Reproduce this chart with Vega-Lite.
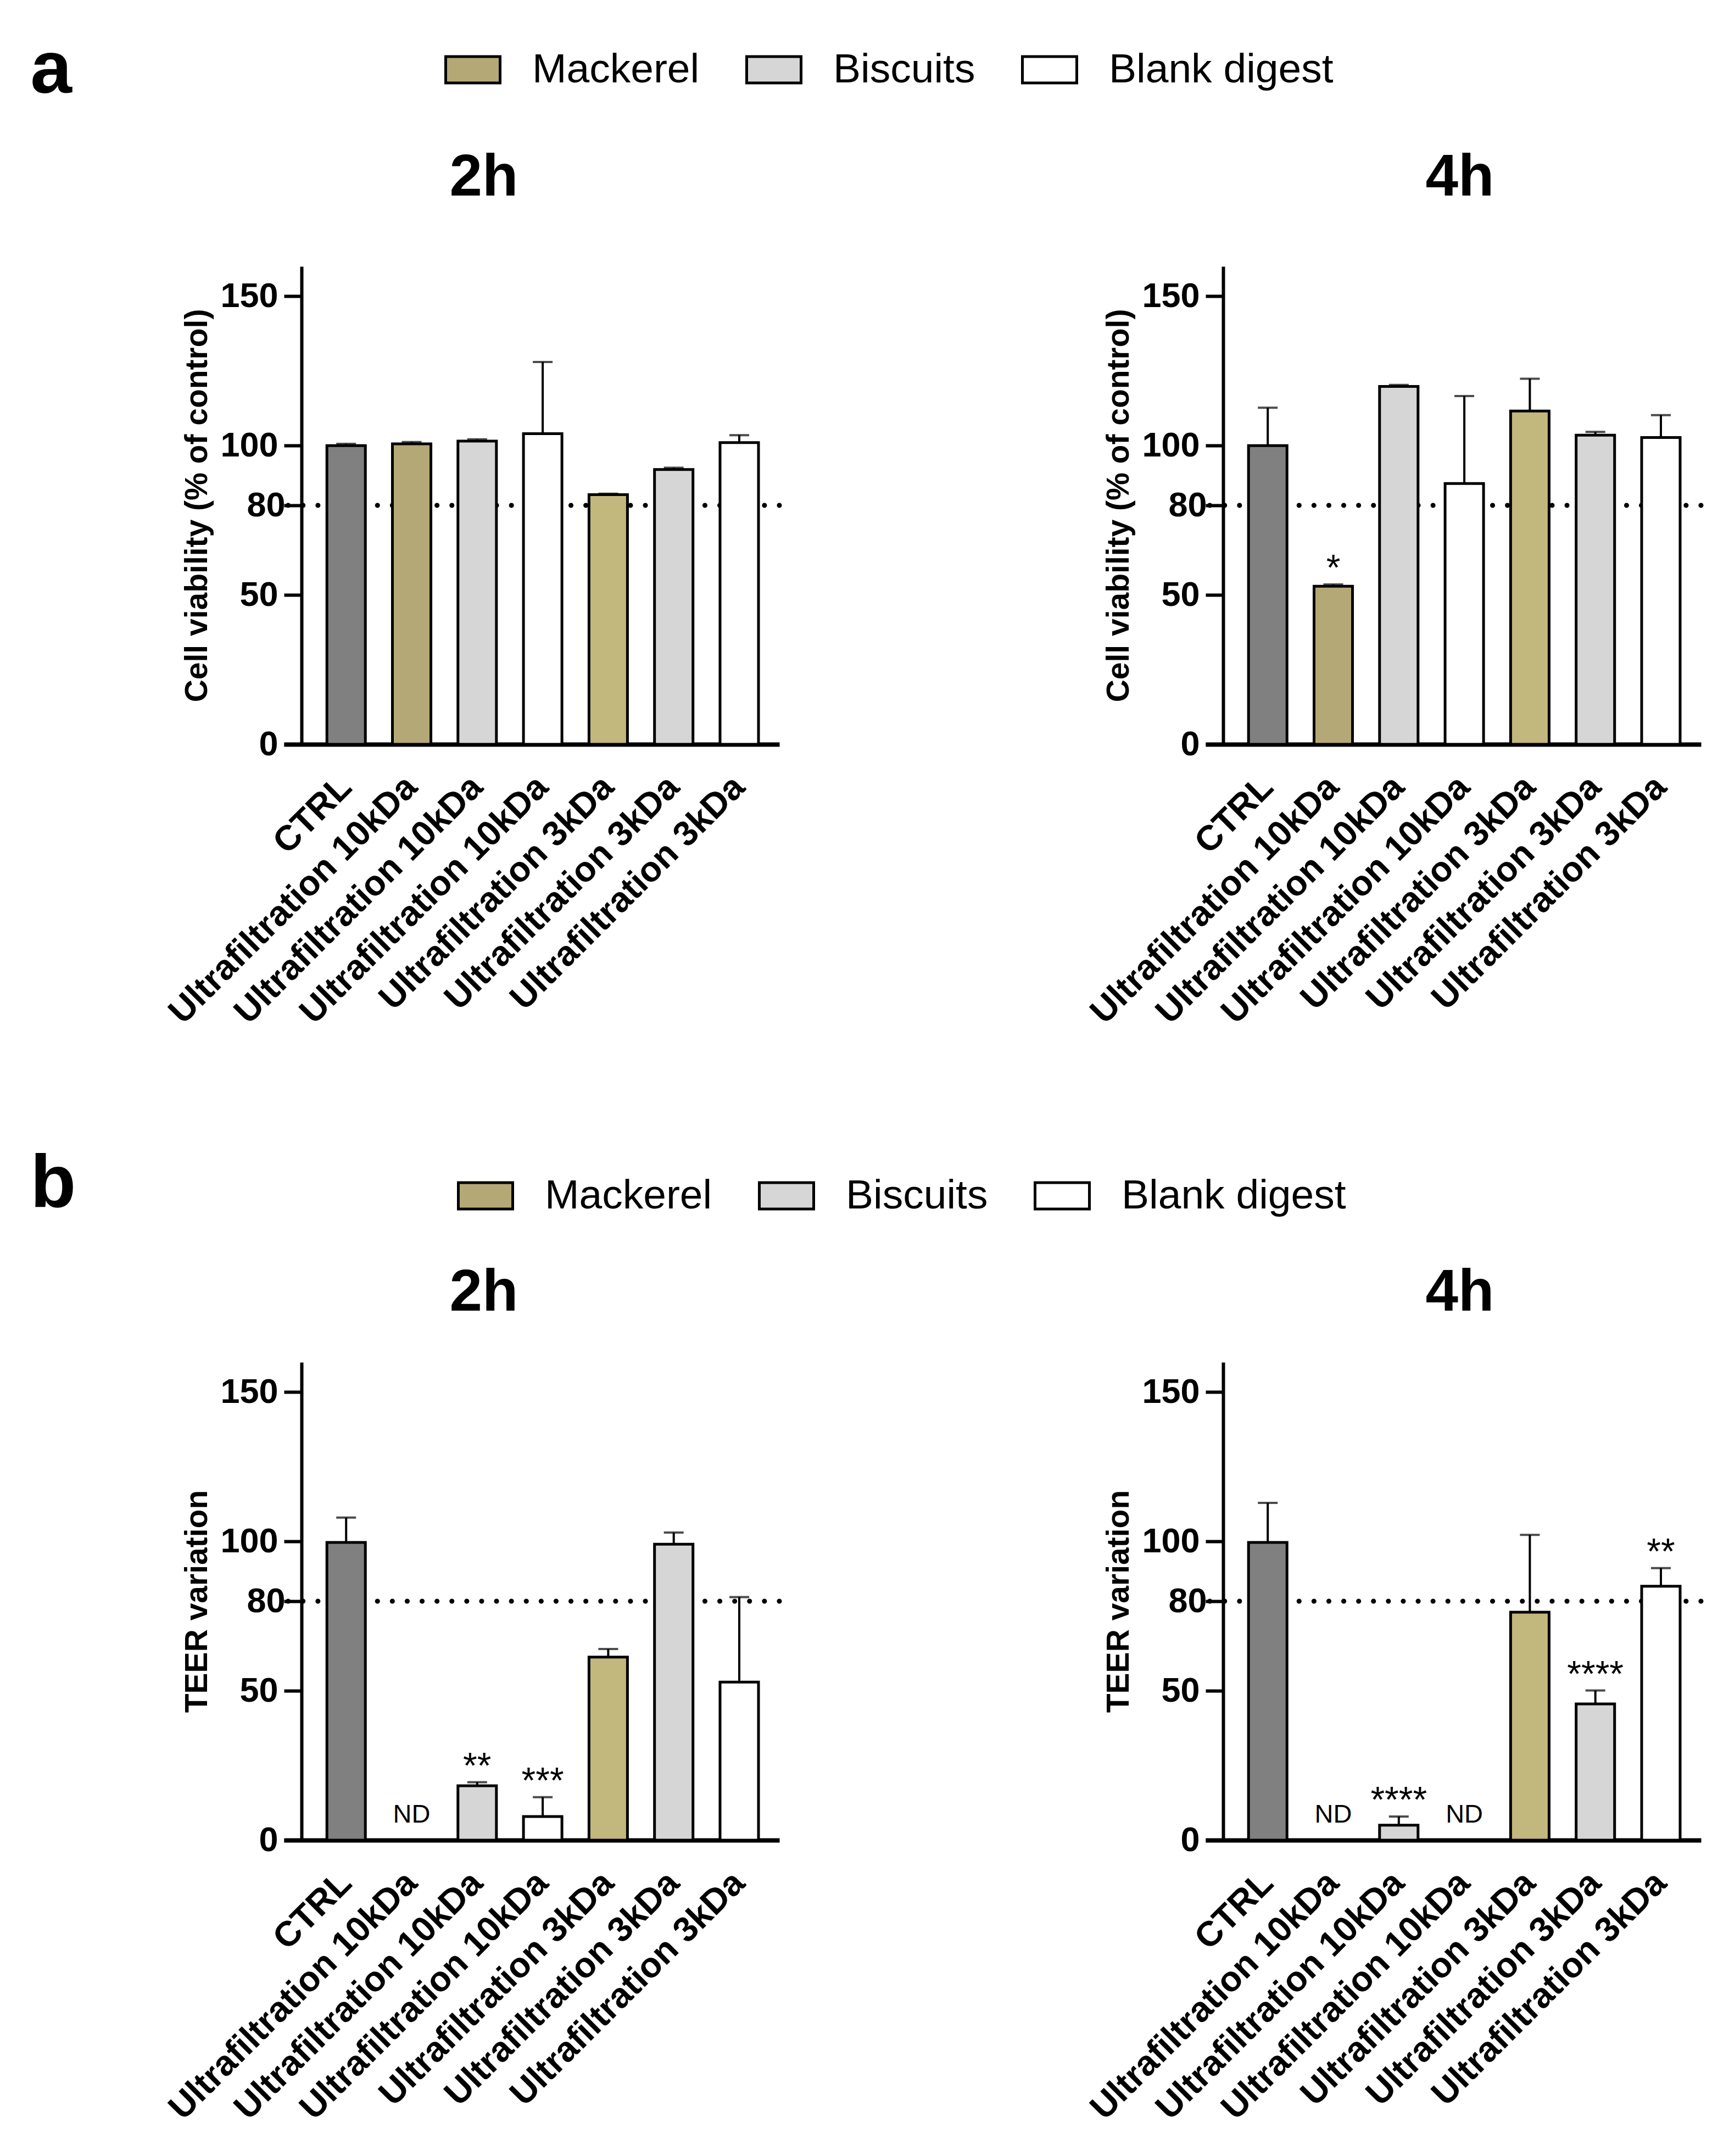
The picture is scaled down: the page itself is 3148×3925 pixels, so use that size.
{
  "$schema": "https://vega.github.io/schema/vega-lite/v6.json",
  "background": "white",
  "padding": {"left": 55, "top": 60, "right": 40, "bottom": 40},
  "datasets": {
    "viab2h": [
      {"bar": "CTRL", "mean": 100, "upper": 100.6, "note": ""},
      {"bar": "Mackerel 10kDa", "mean": 100.6, "upper": 101.2, "note": ""},
      {"bar": "Biscuits 10kDa", "mean": 101.5, "upper": 102.1, "note": ""},
      {"bar": "Blank digest 10kDa", "mean": 104.0, "upper": 128.0, "note": ""},
      {"bar": "Mackerel 3kDa", "mean": 83.6, "upper": 83.9, "note": ""},
      {"bar": "Biscuits 3kDa", "mean": 92.0, "upper": 92.6, "note": ""},
      {"bar": "Blank digest 3kDa", "mean": 101.0, "upper": 103.5, "note": ""}
    ],
    "viab4h": [
      {"bar": "CTRL", "mean": 100, "upper": 112.7, "note": ""},
      {"bar": "Mackerel 10kDa", "mean": 52.9, "upper": 53.5, "note": "*"},
      {"bar": "Biscuits 10kDa", "mean": 119.8, "upper": 120.3, "note": ""},
      {"bar": "Blank digest 10kDa", "mean": 87.3, "upper": 116.6, "note": ""},
      {"bar": "Mackerel 3kDa", "mean": 111.6, "upper": 122.4, "note": ""},
      {"bar": "Biscuits 3kDa", "mean": 103.5, "upper": 104.6, "note": ""},
      {"bar": "Blank digest 3kDa", "mean": 102.7, "upper": 110.2, "note": ""}
    ],
    "teer2h": [
      {"bar": "CTRL", "mean": 99.7, "upper": 108.0, "note": ""},
      {"bar": "Mackerel 10kDa", "mean": null, "upper": null, "note": "ND"},
      {"bar": "Biscuits 10kDa", "mean": 18.2, "upper": 19.4, "note": "**"},
      {"bar": "Blank digest 10kDa", "mean": 7.9, "upper": 14.4, "note": "***"},
      {"bar": "Mackerel 3kDa", "mean": 61.3, "upper": 64.0, "note": ""},
      {"bar": "Biscuits 3kDa", "mean": 99.1, "upper": 103.0, "note": ""},
      {"bar": "Blank digest 3kDa", "mean": 52.9, "upper": 81.4, "note": ""}
    ],
    "teer4h": [
      {"bar": "CTRL", "mean": 99.7, "upper": 112.9, "note": ""},
      {"bar": "Mackerel 10kDa", "mean": null, "upper": null, "note": "ND"},
      {"bar": "Biscuits 10kDa", "mean": 5.0, "upper": 7.9, "note": "****"},
      {"bar": "Blank digest 10kDa", "mean": null, "upper": null, "note": "ND"},
      {"bar": "Mackerel 3kDa", "mean": 76.3, "upper": 102.2, "note": ""},
      {"bar": "Biscuits 3kDa", "mean": 45.6, "upper": 50.1, "note": "****"},
      {"bar": "Blank digest 3kDa", "mean": 85.0, "upper": 91.1, "note": "**"}
    ],
    "threshold": [{"ref": 80}]
  },
  "config": {
    "font": "Liberation Sans",
    "view": {"stroke": null},
    "axis": {
      "grid": false,
      "domainColor": "black",
      "tickColor": "black",
      "labelColor": "black",
      "titleColor": "black",
      "labelFont": "Liberation Sans",
      "titleFont": "Liberation Sans",
      "labelFontWeight": "bold",
      "titleFontWeight": "bold"
    },
    "title": {"font": "Liberation Sans", "fontWeight": "bold", "color": "black"},
    "text": {"font": "Liberation Sans", "color": "black"}
  },
  "resolve": {"scale": {"color": "independent"}, "legend": {"color": "independent"}},
  "spacing": 212,
  "vconcat": [
    {
      "title": {"text": "a", "anchor": "start", "fontSize": 136, "baseline": "alphabetic", "dx": -241, "dy": 230, "offset": 0},
      "spacing": 550,
      "hconcat": [
        {
          "data": {"name": "viab2h"},
          "width": 902,
          "height": 870,
          "title": {"text": "2h", "fontSize": 107, "frame": "group", "anchor": "middle", "baseline": "alphabetic", "offset": 22, "dx": -87},
          "layer": [
            {"data": {"name": "threshold"}, "mark": {"type": "rule", "strokeDash": [0.1, 27], "strokeCap": "round", "strokeWidth": 9, "color": "black"}, "encoding": {"y": {"field": "ref", "type": "quantitative"}}},
            {
              "mark": {"type": "bar", "stroke": "black", "strokeWidth": 5},
              "encoding": {
                "x": {"field": "bar", "type": "nominal", "sort": null,
                  "scale": {"domain": ["CTRL", "Mackerel 10kDa", "Biscuits 10kDa", "Blank digest 10kDa", "Mackerel 3kDa", "Biscuits 3kDa", "Blank digest 3kDa"], "paddingInner": 0.413, "paddingOuter": 0.487, "align": 0.673},
                  "axis": {"title": null, "ticks": false, "tickSize": 0, "domainWidth": 8, "labelAngle": -45, "labelAlign": "right", "labelBaseline": "middle", "labelFontSize": 64, "labelPadding": 68, "labelLimit": 0,
                    "labelExpr": "datum.label == 'CTRL' ? 'CTRL' : 'Ultrafiltration ' + slice(datum.label, lastindexof(datum.label, ' ') + 1)"}},
                "y": {"field": "mean", "type": "quantitative",
                  "scale": {"domain": [0, 160], "nice": false},
                  "axis": {"title": "Cell viability (% of control)", "values": [0, 50, 80, 100, 150], "offset": -32, "tickSize": 32, "tickWidth": 6, "domainWidth": 6, "labelFontSize": 63,
                    "labelPadding": {"condition": {"test": "datum.value == 80", "value": -2}, "value": 11}, "titleFontSize": 57, "titlePadding": 12}},
                "color": {"field": "bar", "type": "nominal",
                  "scale": {"domain": ["CTRL", "Mackerel 10kDa", "Biscuits 10kDa", "Blank digest 10kDa", "Mackerel 3kDa", "Biscuits 3kDa", "Blank digest 3kDa"], "range": ["#808080", "#B4A876", "#D6D6D6", "#FFFFFF", "#C2B77D", "#D6D6D6", "#FFFFFF"]},
                  "legend": {"orient": "none", "legendX": 292, "legendY": -410, "direction": "horizontal", "title": null, "padding": 0,
                    "values": ["Mackerel 10kDa", "Biscuits 10kDa", "Blank digest 10kDa"],
                    "labelExpr": "replace(datum.label, ' 10kDa', '')",
                    "symbolType": "M-1,-0.485H1V0.485H-1Z", "symbolSize": 9801, "symbolStrokeColor": "black", "symbolStrokeWidth": 5, "symbolOpacity": 1,
                    "labelFont": "Liberation Sans", "labelFontSize": 75, "labelColor": "black", "labelOffset": 56, "labelLimit": 0, "columnPadding": 75,
                    "encode": {"symbols": {"update": {"stroke": {"value": "black"}, "strokeWidth": {"value": 5}}}}}}
              }
            },
            {"mark": {"type": "rule", "strokeWidth": 4, "color": "black"}, "encoding": {"x": {"field": "bar", "type": "nominal", "sort": null}, "y": {"field": "mean", "type": "quantitative"}, "y2": {"field": "upper"}}},
            {"mark": {"type": "tick", "size": 36, "thickness": 4, "color": "black"}, "encoding": {"x": {"field": "bar", "type": "nominal", "sort": null}, "y": {"field": "upper", "type": "quantitative"}}},
            {"transform": [{"filter": "datum.note != '' && datum.note != 'ND'"}], "mark": {"type": "text", "baseline": "alphabetic", "dy": -8, "fontSize": 66}, "encoding": {"x": {"field": "bar", "type": "nominal", "sort": null}, "y": {"field": "upper", "type": "quantitative"}, "text": {"field": "note"}}},
            {"transform": [{"filter": "datum.note == 'ND'"}], "mark": {"type": "text", "baseline": "alphabetic", "dy": -32, "fontSize": 47}, "encoding": {"x": {"field": "bar", "type": "nominal", "sort": null}, "y": {"datum": 0}, "text": {"field": "note"}}}
          ]
        },
        {
          "data": {"name": "viab4h"},
          "width": 902,
          "height": 870,
          "title": {"text": "4h", "fontSize": 107, "frame": "group", "anchor": "middle", "baseline": "alphabetic", "offset": 22, "dx": 12},
          "layer": [
            {"data": {"name": "threshold"}, "mark": {"type": "rule", "strokeDash": [0.1, 27], "strokeCap": "round", "strokeWidth": 9, "color": "black"}, "encoding": {"y": {"field": "ref", "type": "quantitative"}}},
            {
              "mark": {"type": "bar", "stroke": "black", "strokeWidth": 5},
              "encoding": {
                "x": {"field": "bar", "type": "nominal", "sort": null,
                  "scale": {"domain": ["CTRL", "Mackerel 10kDa", "Biscuits 10kDa", "Blank digest 10kDa", "Mackerel 3kDa", "Biscuits 3kDa", "Blank digest 3kDa"], "paddingInner": 0.413, "paddingOuter": 0.487, "align": 0.673},
                  "axis": {"title": null, "ticks": false, "tickSize": 0, "domainWidth": 8, "labelAngle": -45, "labelAlign": "right", "labelBaseline": "middle", "labelFontSize": 64, "labelPadding": 68, "labelLimit": 0,
                    "labelExpr": "datum.label == 'CTRL' ? 'CTRL' : 'Ultrafiltration ' + slice(datum.label, lastindexof(datum.label, ' ') + 1)"}},
                "y": {"field": "mean", "type": "quantitative",
                  "scale": {"domain": [0, 160], "nice": false},
                  "axis": {"title": "Cell viability (% of control)", "values": [0, 50, 80, 100, 150], "offset": -32, "tickSize": 32, "tickWidth": 6, "domainWidth": 6, "labelFontSize": 63,
                    "labelPadding": {"condition": {"test": "datum.value == 80", "value": -2}, "value": 11}, "titleFontSize": 57, "titlePadding": 12}},
                "color": {"field": "bar", "type": "nominal",
                  "scale": {"domain": ["CTRL", "Mackerel 10kDa", "Biscuits 10kDa", "Blank digest 10kDa", "Mackerel 3kDa", "Biscuits 3kDa", "Blank digest 3kDa"], "range": ["#808080", "#B4A876", "#D6D6D6", "#FFFFFF", "#C2B77D", "#D6D6D6", "#FFFFFF"]},
                  "legend": {"orient": "none", "legendX": 292, "legendY": -410, "direction": "horizontal", "title": null, "padding": 0,
                    "values": ["Mackerel 10kDa", "Biscuits 10kDa", "Blank digest 10kDa"],
                    "labelExpr": "replace(datum.label, ' 10kDa', '')",
                    "symbolType": "M-1,-0.485H1V0.485H-1Z", "symbolSize": 9801, "symbolStrokeColor": "black", "symbolStrokeWidth": 5, "symbolOpacity": 1,
                    "labelFont": "Liberation Sans", "labelFontSize": 75, "labelColor": "black", "labelOffset": 56, "labelLimit": 0, "columnPadding": 75,
                    "encode": {"symbols": {"update": {"stroke": {"value": "black"}, "strokeWidth": {"value": 5}}}}}}
              }
            },
            {"mark": {"type": "rule", "strokeWidth": 4, "color": "black"}, "encoding": {"x": {"field": "bar", "type": "nominal", "sort": null}, "y": {"field": "mean", "type": "quantitative"}, "y2": {"field": "upper"}}},
            {"mark": {"type": "tick", "size": 36, "thickness": 4, "color": "black"}, "encoding": {"x": {"field": "bar", "type": "nominal", "sort": null}, "y": {"field": "upper", "type": "quantitative"}}},
            {"transform": [{"filter": "datum.note != '' && datum.note != 'ND'"}], "mark": {"type": "text", "baseline": "alphabetic", "dy": -8, "fontSize": 66}, "encoding": {"x": {"field": "bar", "type": "nominal", "sort": null}, "y": {"field": "upper", "type": "quantitative"}, "text": {"field": "note"}}},
            {"transform": [{"filter": "datum.note == 'ND'"}], "mark": {"type": "text", "baseline": "alphabetic", "dy": -32, "fontSize": 47}, "encoding": {"x": {"field": "bar", "type": "nominal", "sort": null}, "y": {"datum": 0}, "text": {"field": "note"}}}
          ]
        }
      ]
    },
    {
      "title": {"text": "b", "anchor": "start", "fontSize": 136, "baseline": "alphabetic", "dx": -241, "dy": 208, "offset": 0},
      "spacing": 550,
      "hconcat": [
        {
          "data": {"name": "teer2h"},
          "width": 902,
          "height": 870,
          "title": {"text": "2h", "fontSize": 107, "frame": "group", "anchor": "middle", "baseline": "alphabetic", "offset": -13, "dx": -87},
          "layer": [
            {"data": {"name": "threshold"}, "mark": {"type": "rule", "strokeDash": [0.1, 27], "strokeCap": "round", "strokeWidth": 9, "color": "black"}, "encoding": {"y": {"field": "ref", "type": "quantitative"}}},
            {
              "mark": {"type": "bar", "stroke": "black", "strokeWidth": 5},
              "encoding": {
                "x": {"field": "bar", "type": "nominal", "sort": null,
                  "scale": {"domain": ["CTRL", "Mackerel 10kDa", "Biscuits 10kDa", "Blank digest 10kDa", "Mackerel 3kDa", "Biscuits 3kDa", "Blank digest 3kDa"], "paddingInner": 0.413, "paddingOuter": 0.487, "align": 0.673},
                  "axis": {"title": null, "ticks": false, "tickSize": 0, "domainWidth": 8, "labelAngle": -45, "labelAlign": "right", "labelBaseline": "middle", "labelFontSize": 64, "labelPadding": 68, "labelLimit": 0,
                    "labelExpr": "datum.label == 'CTRL' ? 'CTRL' : 'Ultrafiltration ' + slice(datum.label, lastindexof(datum.label, ' ') + 1)"}},
                "y": {"field": "mean", "type": "quantitative",
                  "scale": {"domain": [0, 160], "nice": false},
                  "axis": {"title": "TEER variation", "values": [0, 50, 80, 100, 150], "offset": -32, "tickSize": 32, "tickWidth": 6, "domainWidth": 6, "labelFontSize": 63,
                    "labelPadding": {"condition": {"test": "datum.value == 80", "value": -2}, "value": 11}, "titleFontSize": 57, "titlePadding": 12}},
                "color": {"field": "bar", "type": "nominal",
                  "scale": {"domain": ["CTRL", "Mackerel 10kDa", "Biscuits 10kDa", "Blank digest 10kDa", "Mackerel 3kDa", "Biscuits 3kDa", "Blank digest 3kDa"], "range": ["#808080", "#B4A876", "#D6D6D6", "#FFFFFF", "#C2B77D", "#D6D6D6", "#FFFFFF"]},
                  "legend": {"orient": "none", "legendX": 315, "legendY": -355, "direction": "horizontal", "title": null, "padding": 0,
                    "values": ["Mackerel 10kDa", "Biscuits 10kDa", "Blank digest 10kDa"],
                    "labelExpr": "replace(datum.label, ' 10kDa', '')",
                    "symbolType": "M-1,-0.485H1V0.485H-1Z", "symbolSize": 9801, "symbolStrokeColor": "black", "symbolStrokeWidth": 5, "symbolOpacity": 1,
                    "labelFont": "Liberation Sans", "labelFontSize": 75, "labelColor": "black", "labelOffset": 56, "labelLimit": 0, "columnPadding": 75,
                    "encode": {"symbols": {"update": {"stroke": {"value": "black"}, "strokeWidth": {"value": 5}}}}}}
              }
            },
            {"mark": {"type": "rule", "strokeWidth": 4, "color": "black"}, "encoding": {"x": {"field": "bar", "type": "nominal", "sort": null}, "y": {"field": "mean", "type": "quantitative"}, "y2": {"field": "upper"}}},
            {"mark": {"type": "tick", "size": 36, "thickness": 4, "color": "black"}, "encoding": {"x": {"field": "bar", "type": "nominal", "sort": null}, "y": {"field": "upper", "type": "quantitative"}}},
            {"transform": [{"filter": "datum.note != '' && datum.note != 'ND'"}], "mark": {"type": "text", "baseline": "alphabetic", "dy": -8, "fontSize": 66}, "encoding": {"x": {"field": "bar", "type": "nominal", "sort": null}, "y": {"field": "upper", "type": "quantitative"}, "text": {"field": "note"}}},
            {"transform": [{"filter": "datum.note == 'ND'"}], "mark": {"type": "text", "baseline": "alphabetic", "dy": -32, "fontSize": 47}, "encoding": {"x": {"field": "bar", "type": "nominal", "sort": null}, "y": {"datum": 0}, "text": {"field": "note"}}}
          ]
        },
        {
          "data": {"name": "teer4h"},
          "width": 902,
          "height": 870,
          "title": {"text": "4h", "fontSize": 107, "frame": "group", "anchor": "middle", "baseline": "alphabetic", "offset": -13, "dx": 12},
          "layer": [
            {"data": {"name": "threshold"}, "mark": {"type": "rule", "strokeDash": [0.1, 27], "strokeCap": "round", "strokeWidth": 9, "color": "black"}, "encoding": {"y": {"field": "ref", "type": "quantitative"}}},
            {
              "mark": {"type": "bar", "stroke": "black", "strokeWidth": 5},
              "encoding": {
                "x": {"field": "bar", "type": "nominal", "sort": null,
                  "scale": {"domain": ["CTRL", "Mackerel 10kDa", "Biscuits 10kDa", "Blank digest 10kDa", "Mackerel 3kDa", "Biscuits 3kDa", "Blank digest 3kDa"], "paddingInner": 0.413, "paddingOuter": 0.487, "align": 0.673},
                  "axis": {"title": null, "ticks": false, "tickSize": 0, "domainWidth": 8, "labelAngle": -45, "labelAlign": "right", "labelBaseline": "middle", "labelFontSize": 64, "labelPadding": 68, "labelLimit": 0,
                    "labelExpr": "datum.label == 'CTRL' ? 'CTRL' : 'Ultrafiltration ' + slice(datum.label, lastindexof(datum.label, ' ') + 1)"}},
                "y": {"field": "mean", "type": "quantitative",
                  "scale": {"domain": [0, 160], "nice": false},
                  "axis": {"title": "TEER variation", "values": [0, 50, 80, 100, 150], "offset": -32, "tickSize": 32, "tickWidth": 6, "domainWidth": 6, "labelFontSize": 63,
                    "labelPadding": {"condition": {"test": "datum.value == 80", "value": -2}, "value": 11}, "titleFontSize": 57, "titlePadding": 12}},
                "color": {"field": "bar", "type": "nominal",
                  "scale": {"domain": ["CTRL", "Mackerel 10kDa", "Biscuits 10kDa", "Blank digest 10kDa", "Mackerel 3kDa", "Biscuits 3kDa", "Blank digest 3kDa"], "range": ["#808080", "#B4A876", "#D6D6D6", "#FFFFFF", "#C2B77D", "#D6D6D6", "#FFFFFF"]},
                  "legend": {"orient": "none", "legendX": 315, "legendY": -355, "direction": "horizontal", "title": null, "padding": 0,
                    "values": ["Mackerel 10kDa", "Biscuits 10kDa", "Blank digest 10kDa"],
                    "labelExpr": "replace(datum.label, ' 10kDa', '')",
                    "symbolType": "M-1,-0.485H1V0.485H-1Z", "symbolSize": 9801, "symbolStrokeColor": "black", "symbolStrokeWidth": 5, "symbolOpacity": 1,
                    "labelFont": "Liberation Sans", "labelFontSize": 75, "labelColor": "black", "labelOffset": 56, "labelLimit": 0, "columnPadding": 75,
                    "encode": {"symbols": {"update": {"stroke": {"value": "black"}, "strokeWidth": {"value": 5}}}}}}
              }
            },
            {"mark": {"type": "rule", "strokeWidth": 4, "color": "black"}, "encoding": {"x": {"field": "bar", "type": "nominal", "sort": null}, "y": {"field": "mean", "type": "quantitative"}, "y2": {"field": "upper"}}},
            {"mark": {"type": "tick", "size": 36, "thickness": 4, "color": "black"}, "encoding": {"x": {"field": "bar", "type": "nominal", "sort": null}, "y": {"field": "upper", "type": "quantitative"}}},
            {"transform": [{"filter": "datum.note != '' && datum.note != 'ND'"}], "mark": {"type": "text", "baseline": "alphabetic", "dy": -8, "fontSize": 66}, "encoding": {"x": {"field": "bar", "type": "nominal", "sort": null}, "y": {"field": "upper", "type": "quantitative"}, "text": {"field": "note"}}},
            {"transform": [{"filter": "datum.note == 'ND'"}], "mark": {"type": "text", "baseline": "alphabetic", "dy": -32, "fontSize": 47}, "encoding": {"x": {"field": "bar", "type": "nominal", "sort": null}, "y": {"datum": 0}, "text": {"field": "note"}}}
          ]
        }
      ]
    }
  ]
}
